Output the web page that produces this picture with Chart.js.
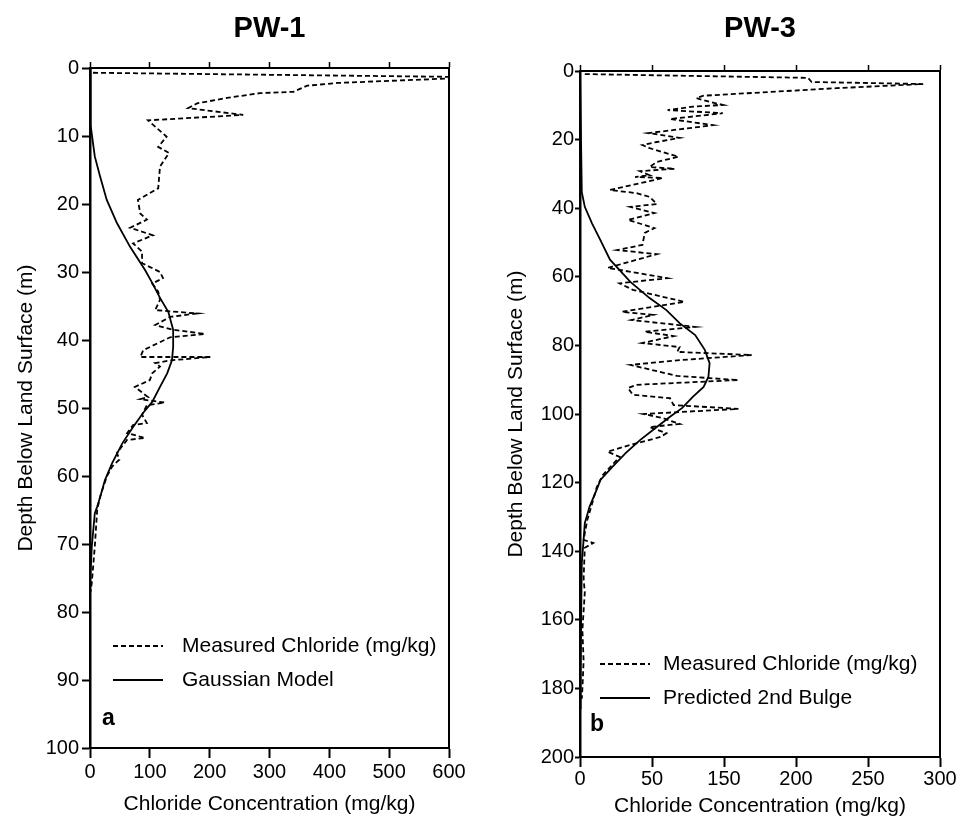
<!DOCTYPE html>
<html>
<head>
<meta charset="utf-8">
<script src="https://cdn.jsdelivr.net/npm/chart.js@4.4.1/dist/chart.umd.min.js"></script>
<style>
  body { margin: 0; background: #fff; }
  #wrap { position: relative; width: 961px; height: 825px; }
  canvas { position: absolute; top: 0; }
  #pw1 { left: 0; }
  #pw3 { left: 480px; }
</style>
</head>
<body>
<div id="wrap">
  <canvas id="pw1" width="470" height="825"></canvas>
  <canvas id="pw3" width="481" height="825"></canvas>
</div>
<script>
// PW-1 measured chloride (mg/kg) vs depth (m)
const pw1MeasDepth = [0.7, 1.3, 1.4, 2.2, 2.6, 3.5, 3.7, 4.4, 5.2, 5.9, 6.9, 7.7, 10.1, 11.6, 12.5, 14.5, 17.7, 19.4, 21.4, 22.3, 23.5, 24.6, 25.8, 27.0, 28.7, 30.0, 30.9, 31.7, 32.9, 34.1, 35.6, 36.1, 36.6, 37.8, 38.5, 39.1, 39.6, 41.5, 42.5, 42.5, 43.0, 43.4, 43.9, 44.9, 45.9, 46.9, 48.4, 48.7, 49.2, 49.6, 51.0, 52.2, 52.5, 53.7, 54.4, 54.7, 56.6, 57.6, 58.6, 60.1, 63.0, 65.0, 70.4, 75.7, 77.0];
const pw1Meas = [5, 600, 640, 413, 363, 340, 284, 229, 179, 164, 256, 97, 128, 114, 132, 117, 114, 80, 84, 95, 67, 105, 72, 87, 87, 117, 122, 104, 114, 117, 109, 179, 134, 109, 139, 192, 134, 89, 84, 201, 134, 109, 117, 104, 100, 75, 97, 84, 125, 95, 87, 95, 72, 62, 92, 62, 45, 49, 37, 28, 17, 12, 8, 3, 1];

// PW-1 Gaussian model
const pw1ModelDepth = [0, 8.4, 13, 16, 19.4, 22.8, 26.3, 29.7, 31.6, 33.8, 35.9, 38.5, 41, 43, 44.9, 46.9, 49.1, 50.7, 52.8, 55.2, 58.1, 60.6, 63.1, 64.5, 65.5, 70.4, 75.8, 100];
const pw1Model = [0, 1, 8, 17, 28, 45, 67, 92, 104, 117, 131, 139, 139, 137, 129, 117, 104, 89, 72, 54, 37, 25, 17, 12, 8, 3, 0, 0];

// PW-3 measured chloride vs depth
const pw3MeasDepth = [0.9, 2, 3.2, 3.8, 5, 6, 7.2, 7.9, 9, 9.9, 10.4, 11.4, 12.3, 14, 15.8, 18.1, 19.5, 20.7, 21.6, 22.5, 25, 26.5, 28, 28.5, 29.2, 30.4, 30.9, 31.2, 34.7, 35.6, 36.7, 38.8, 39.6, 41.4, 43.4, 45.8, 47.2, 50.7, 52.2, 53.4, 57.4, 60.4, 61.9, 63.8, 67.3, 70.2, 71.1, 72.6, 74.6, 76, 77.3, 79.3, 80.5, 81.9, 82.8, 84.3, 85.7, 88.9, 90.1, 91.5, 92.4, 94.4, 95.4, 97.4, 98.5, 100, 101.2, 102.9, 103.8, 105.6, 106.7, 109, 111, 112.5, 117.8, 121.3, 125, 131, 136.7, 137.6, 139, 148, 152, 163, 172, 180, 183];
const pw3Meas = [4, 190, 193, 286, 214, 164, 103, 97, 108, 119, 94, 73, 119, 75, 111, 57, 83, 64, 52, 58, 82, 64, 58, 79, 50, 58, 46, 69, 25, 47, 58, 64, 42, 62, 40, 62, 54, 52, 31, 64, 23, 73, 33, 44, 87, 35, 61, 43, 96, 54, 78, 52, 83, 81, 143, 83, 42, 81, 132, 47, 40, 44, 75, 78, 132, 53, 69, 83, 58, 72, 67, 42, 23, 33, 19, 14, 11, 6, 3, 11, 4, 3, 4, 2, 3, 2, 1.5];

// PW-3 predicted 2nd bulge
const pw3ModelDepth = [0, 35.3, 39.6, 44.4, 49.3, 55, 61.5, 66.2, 69.7, 73.5, 77, 81.3, 85.2, 89.2, 92.1, 95, 98.3, 100.8, 103.8, 107.6, 111.4, 115.4, 119.2, 122, 127, 131.8, 136.7, 143.4, 158, 177.5, 186];
const pw3Model = [0, 1.5, 4, 10, 17, 25, 42, 58, 72, 83, 96, 104, 108, 107, 103, 94, 85, 75, 64, 50, 38, 27, 17, 14, 8, 4, 3, 1.5, 1, 0.5, 0.5];

const pw1XTicks = ["0", "100", "200", "300", "400", "500", "600"];
const pw3XTicks = ["0", "50", "150", "200", "250", "300"];

Chart.defaults.font.family = "'Liberation Sans', Arial, sans-serif";
Chart.defaults.color = "#000";

const toPoints = (xs, ys) => xs.map((x, i) => ({ x: x, y: ys[i] }));

// titles, in-plot legend and panel letter
const panelText = {
  id: "panelText",
  afterDraw(chart, args, opts) {
    const ctx = chart.ctx;
    const area = chart.chartArea;
    ctx.save();
    ctx.fillStyle = "#000";
    ctx.textBaseline = "middle";
    ctx.textAlign = "center";
    ctx.font = "bold 29px 'Liberation Sans', Arial, sans-serif";
    ctx.fillText(opts.title, (area.left + area.right) / 2, 29);

    ctx.textAlign = "left";
    ctx.font = "21px 'Liberation Sans', Arial, sans-serif";
    opts.legend.forEach((item, i) => {
      const ds = chart.data.datasets[i];
      ctx.strokeStyle = "#000";
      ctx.lineWidth = 1.8;
      ctx.setLineDash(ds.borderDash || []);
      ctx.beginPath();
      ctx.moveTo(opts.lx, item.y);
      ctx.lineTo(opts.lx + 50, item.y);
      ctx.stroke();
      ctx.fillText(item.text, opts.tx, item.y);
    });
    ctx.setLineDash([]);
    ctx.font = "bold 23px 'Liberation Sans', Arial, sans-serif";
    ctx.fillText(opts.letter, opts.letterX, opts.letterY);
    ctx.restore();
  },
};

const makeChart = (id, cfg) => {
  const ctx = document.getElementById(id);
  return new Chart(ctx, {
    type: "scatter",
    data: {
      datasets: [
        {
          label: cfg.labels[0],
          data: cfg.measured,
          showLine: true,
          borderColor: "#000",
          borderWidth: 1.8,
          borderDash: [5, 3],
          pointRadius: 0,
        },
        {
          label: cfg.labels[1],
          data: cfg.model,
          showLine: true,
          borderColor: "#000",
          borderWidth: 1.8,
          pointRadius: 0,
        },
      ],
    },
    plugins: [panelText],
    options: {
      responsive: false,
      animation: false,
      layout: { padding: { top: cfg.top, right: 21, left: 0, bottom: 0 } },
      plugins: {
        legend: { display: false },
        tooltip: { enabled: false },
        panelText: cfg.text,
      },
      scales: {
        x: {
          type: "linear",
          position: "bottom",
          min: 0,
          max: cfg.xMax,
          afterBuildTicks: (scale) => {
            scale.ticks = cfg.xTicks.map((t, i) => ({ value: i * cfg.xStep }));
          },
          ticks: {
            font: { size: 20 },
            padding: cfg.xPad,
            maxRotation: 0,
            autoSkip: false,
            callback: (v, i) => cfg.xTicks[i],
          },
          grid: { drawOnChartArea: false, tickLength: 10, color: "#000", tickWidth: 2 },
          border: { color: "#000", width: 2 },
          title: {
            display: true,
            text: "Chloride Concentration (mg/kg)",
            font: { size: 21 },
            padding: { top: 0, bottom: cfg.xTitlePad },
          },
          afterFit: (scale) => { scale.height = cfg.xHeight; },
        },
        xTop: {
          type: "linear",
          position: "top",
          min: 0,
          max: cfg.xMax,
          afterBuildTicks: (scale) => {
            scale.ticks = cfg.xTicks.map((t, i) => ({ value: i * cfg.xStep }));
          },
          ticks: { display: false },
          grid: { drawOnChartArea: false, tickLength: 6, color: "#000", tickWidth: 1.5 },
          border: { color: "#000", width: 2 },
          afterFit: (scale) => { scale.height = 0; },
        },
        y: {
          type: "linear",
          position: "left",
          reverse: true,
          min: 0,
          max: cfg.yMax,
          ticks: { stepSize: cfg.yStep, font: { size: 20 }, padding: cfg.yPad },
          grid: { drawOnChartArea: false, tickLength: cfg.yTick, color: "#000", tickWidth: 2 },
          border: { color: "#000", width: 2.5 },
          title: {
            display: true,
            text: "Depth Below Land Surface (m)",
            font: { size: 21 },
            padding: { top: cfg.yTitlePad, bottom: 0 },
          },
          afterFit: (scale) => { scale.width = cfg.yWidth; },
        },
        yRight: {
          type: "linear",
          position: "right",
          min: 0,
          max: cfg.yMax,
          ticks: { display: false },
          grid: { drawOnChartArea: false, drawTicks: false },
          border: { color: "#000", width: 2 },
          afterFit: (scale) => { scale.width = 0; },
        },
      },
    },
  });
};

makeChart("pw1", {
  labels: ["Measured Chloride (mg/kg)", "Gaussian Model"],
  measured: toPoints(pw1Meas, pw1MeasDepth),
  model: toPoints(pw1Model, pw1ModelDepth),
  top: 68,
  xMax: 600,
  xStep: 100,
  xTicks: pw1XTicks,
  xPad: 2,
  xHeight: 77,
  xTitlePad: 8,
  yMax: 100,
  yStep: 10,
  yPad: 3,
  yTick: 8,
  yWidth: 90,
  yTitlePad: 14,
  text: {
    title: "PW-1",
    legend: [
      { text: "Measured Chloride (mg/kg)", y: 646 },
      { text: "Gaussian Model", y: 680 },
    ],
    lx: 113,
    tx: 182,
    letter: "a",
    letterX: 102,
    letterY: 719,
  },
});

makeChart("pw3", {
  labels: ["Measured Chloride (mg/kg)", "Predicted 2nd Bulge"],
  measured: toPoints(pw3Meas, pw3MeasDepth),
  model: toPoints(pw3Model, pw3ModelDepth),
  top: 71,
  xMax: 300,
  xStep: 60,
  xTicks: pw3XTicks,
  xPad: 0,
  xHeight: 68,
  xTitlePad: 6,
  yMax: 200,
  yStep: 20,
  yPad: 1,
  yTick: 5,
  yWidth: 100,
  yTitlePad: 24,
  text: {
    title: "PW-3",
    legend: [
      { text: "Measured Chloride (mg/kg)", y: 664 },
      { text: "Predicted 2nd Bulge", y: 698 },
    ],
    lx: 120,
    tx: 183,
    letter: "b",
    letterX: 110,
    letterY: 725,
  },
});
</script>
</body>
</html>
